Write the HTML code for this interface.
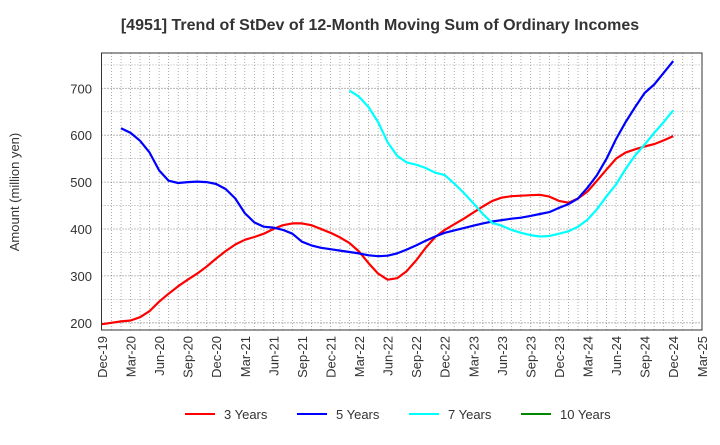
<!DOCTYPE html>
<html><head><meta charset="utf-8"><style>
body{margin:0;background:#fff;font-family:"Liberation Sans",sans-serif}
</style></head><body>
<svg width="720" height="440" xmlns="http://www.w3.org/2000/svg" id="c" font-family="Liberation Sans, sans-serif">
<text x="380" y="30" text-anchor="middle" font-size="16" font-weight="bold" fill="#333">[4951]  Trend of StDev of 12-Month Moving Sum of Ordinary Incomes</text>
<text transform="translate(19,192) rotate(-90)" text-anchor="middle" font-size="13" fill="#333">Amount (million yen)</text>
<g id="grid"></g><g id="series"></g><g id="axes"></g>
<g font-size="13" fill="#333">
<g><line x1="185" y1="414" x2="215" y2="414" stroke="#f00" stroke-width="2"/><text x="224" y="419">3 Years</text></g>
<g><line x1="297" y1="414" x2="327" y2="414" stroke="#00f" stroke-width="2"/><text x="336" y="419">5 Years</text></g>
<g><line x1="409" y1="414" x2="439" y2="414" stroke="#0ff" stroke-width="2"/><text x="448" y="419">7 Years</text></g>
<g><line x1="521" y1="414" x2="551" y2="414" stroke="#080" stroke-width="2"/><text x="560" y="419">10 Years</text></g>
</g>
</svg>
<script>
const xLabels=["Dec-19","Mar-20","Jun-20","Sep-20","Dec-20","Mar-21","Jun-21","Sep-21","Dec-21","Mar-22","Jun-22","Sep-22","Dec-22","Mar-23","Jun-23","Sep-23","Dec-23","Mar-24","Jun-24","Sep-24","Dec-24","Mar-25"];
const yTicks=[200,300,400,500,600,700];
const red3=[197,200,203,205,212,225,245,262,278,292,305,320,337,353,367,377,383,390,400,408,412,412,408,400,392,382,370,352,327,305,292,295,310,333,360,383,398,410,422,435,448,460,467,470,471,472,473,469,460,456,465,480,503,527,550,563,570,576,581,589,598];
const blue5Start=2;
const blue5=[615,605,588,563,525,503,498,500,501,500,496,485,465,434,414,405,403,398,390,373,365,360,357,354,351,348,344,342,343,348,356,365,375,384,392,397,402,407,412,416,419,422,424,428,432,436,445,453,465,488,515,550,592,628,660,690,708,733,758];
const cyan7Start=26;
const cyan7=[695,682,660,628,585,556,542,537,530,520,515,497,477,455,432,413,407,398,392,387,384,385,390,395,405,420,442,470,495,528,557,580,605,628,653];
const X0=102,DX=9.52,Y700=88.3,PX=0.469;
const x=m=>X0+m*DX, y=v=>Y700+(700-v)*PX;
const NS="http://www.w3.org/2000/svg";
function mk(t,a,p){const e=document.createElementNS(NS,t);for(const k in a)e.setAttribute(k,a[k]);p.appendChild(e);return e;}
const g=document.getElementById('grid'),s=document.getElementById('series'),ax=document.getElementById('axes');
const L=101.5,R=702,T=53,B=330;
for(let m=1;m<63;m++){const l=mk('line',{x1:x(m),x2:x(m),y1:T,y2:B,stroke:'#999','stroke-dasharray':'1,2','stroke-width':0.8},g);}
for(let v=200;v<=760;v+=50){const l=mk('line',{x1:L,x2:R,y1:y(v),y2:y(v),stroke:v%100?'#999':'#555','stroke-dasharray':'1,2','stroke-width':0.8},g);}
const fr=mk('rect',{x:L,y:T,width:R-L,height:B-T,fill:'none',stroke:'#333'},ax);

yTicks.forEach(v=>{const t=mk('text',{x:92,y:y(v)+5,'text-anchor':'end','font-size':13,fill:'#333'},ax);t.textContent=v;});
xLabels.forEach((lb,i)=>{const t=mk('text',{transform:`translate(${x(i*3)+5},336) rotate(-90)`,'text-anchor':'end','font-size':13,fill:'#333'},ax);t.textContent=lb;});
function line(arr,start,col,name){const p=mk('polyline',{points:arr.map((v,i)=>x(start+i).toFixed(1)+','+y(v).toFixed(1)).join(' '),fill:'none',stroke:col,'stroke-width':2.2,'stroke-linejoin':'round'},s);}
line(red3,0,'#f00','series-3-years');
line(blue5,blue5Start,'#00f','series-5-years');
line(cyan7,cyan7Start,'#0ff','series-7-years');
</script>
</body></html>
